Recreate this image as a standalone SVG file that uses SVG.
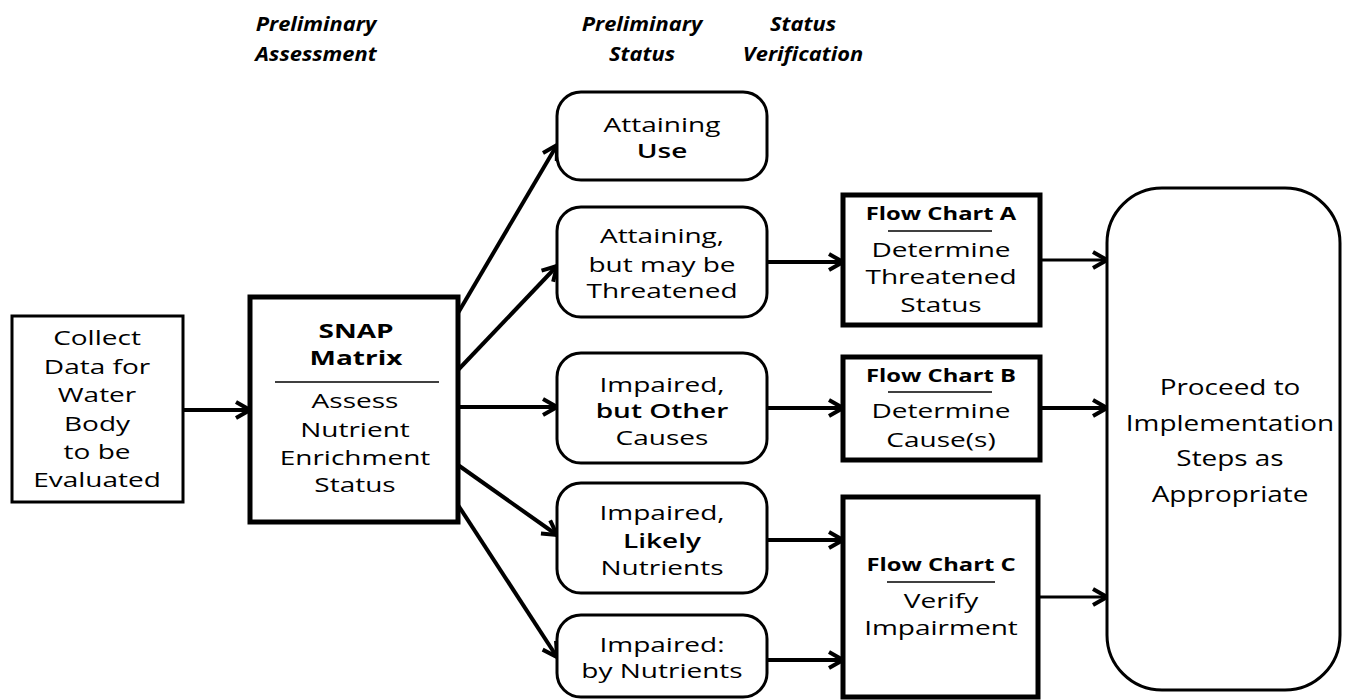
<svg xmlns="http://www.w3.org/2000/svg" width="1345" height="700" viewBox="0 0 1345 700">
<style>
.t{font-family:"Open Sans","DejaVu Sans",sans-serif;font-size:20px;fill:#000;text-anchor:middle}
.b{font-weight:700}
.sb{font-weight:600}
.h{font-family:"Open Sans","DejaVu Sans",sans-serif;font-size:19px;font-weight:700;font-style:italic;fill:#000;text-anchor:middle}
.fc{font-size:17px;font-weight:700}
.pr{font-size:21px}
.box{fill:#fff;stroke:#000;stroke-width:3}
.thick{fill:#fff;stroke:#000;stroke-width:5}
.div{stroke:#000;stroke-width:1.5}
.c{fill:none;stroke:#000;stroke-width:4;marker-end:url(#ah)}
.c2{fill:none;stroke:#000;stroke-width:3;marker-end:url(#ah)}
</style>
<defs>
<marker id="ah" markerUnits="userSpaceOnUse" viewBox="0 0 18 20" refX="16" refY="10" markerWidth="18" markerHeight="20" orient="auto">
<path d="M2,2 L16,10 L2,18" fill="none" stroke="#000" stroke-width="4" stroke-linejoin="miter"/>
</marker>
</defs>
<rect width="1345" height="700" fill="#fff"/>

<g id="headers">
<text class="h" transform="translate(316 0) scale(1.15 1)"><tspan x="0" y="31">Preliminary</tspan><tspan x="0" y="61">Assessment</tspan></text>
<text class="h" transform="translate(642 0) scale(1.15 1)"><tspan x="0" y="31">Preliminary</tspan><tspan x="0" y="61">Status</tspan></text>
<text class="h" transform="translate(803 0) scale(1.15 1)"><tspan x="0" y="31">Status</tspan><tspan x="0" y="61">Verification</tspan></text>
</g>

<g id="connectors">
<path class="c" d="M183,410 L250,410"/>
<path class="c" d="M458,313 L557,145"/>
<path class="c" d="M458,370 L557,266"/>
<path class="c" d="M458,407 L557,407"/>
<path class="c" d="M458,465 L557,535"/>
<path class="c" d="M458,505 L557,657"/>
<path class="c" d="M767,262 L843,262"/>
<path class="c" d="M767,408 L843,408"/>
<path class="c" d="M767,540 L843,540"/>
<path class="c" d="M767,660 L843,660"/>
<path class="c2" d="M1040,260 L1107,260"/>
<path class="c" d="M1040,408 L1107,408"/>
<path class="c2" d="M1040,597 L1107,597"/>
</g>

<g id="collect">
<rect class="box" x="12" y="316" width="171" height="186"/>
<text class="t" transform="translate(97 0) scale(1.4 1)"><tspan x="0" y="345">Collect</tspan><tspan x="0" y="374">Data for</tspan><tspan x="0" y="402">Water</tspan><tspan x="0" y="431">Body</tspan><tspan x="0" y="459">to be</tspan><tspan x="0" y="487">Evaluated</tspan></text>
</g>

<g id="snap">
<rect class="thick" x="250" y="297" width="208" height="225"/>
<text class="t b" transform="translate(356 0) scale(1.4 1)"><tspan x="0" y="338">SNAP</tspan><tspan x="0" y="365">Matrix</tspan></text>
<line class="div" x1="275" y1="382" x2="439" y2="382"/>
<text class="t" transform="translate(355 0) scale(1.4 1)"><tspan x="0" y="408">Assess</tspan><tspan x="0" y="437">Nutrient</tspan><tspan x="0" y="465">Enrichment</tspan><tspan x="0" y="492">Status</tspan></text>
</g>

<g id="attaining-use">
<rect class="box" x="557" y="92" width="210" height="88" rx="24"/>
<text class="t" transform="translate(662 0) scale(1.4 1)"><tspan x="0" y="132">Attaining</tspan><tspan x="0" y="158" class="sb">Use</tspan></text>
</g>

<g id="attaining-threatened">
<rect class="box" x="557" y="207" width="210" height="110" rx="24"/>
<text class="t" transform="translate(662 0) scale(1.4 1)"><tspan x="0" y="243">Attaining,</tspan><tspan x="0" y="272">but may be</tspan><tspan x="0" y="298">Threatened</tspan></text>
</g>

<g id="impaired-other">
<rect class="box" x="557" y="353" width="210" height="110" rx="24"/>
<text class="t" transform="translate(662 0) scale(1.4 1)"><tspan x="0" y="392">Impaired,</tspan><tspan x="0" y="418" class="sb">but Other</tspan><tspan x="0" y="445">Causes</tspan></text>
</g>

<g id="impaired-likely">
<rect class="box" x="557" y="483" width="210" height="110" rx="24"/>
<text class="t" transform="translate(662 0) scale(1.4 1)"><tspan x="0" y="520">Impaired,</tspan><tspan x="0" y="548" class="sb">Likely</tspan><tspan x="0" y="575">Nutrients</tspan></text>
</g>

<g id="impaired-nutrients">
<rect class="box" x="557" y="615" width="210" height="82" rx="24"/>
<text class="t" transform="translate(662 0) scale(1.4 1)"><tspan x="0" y="652">Impaired:</tspan><tspan x="0" y="678">by Nutrients</tspan></text>
</g>

<g id="flow-chart-a">
<rect class="thick" x="843" y="195" width="197" height="130"/>
<text class="t fc" transform="translate(941 0) scale(1.4 1)"><tspan x="0" y="220">Flow Chart A</tspan></text>
<line class="div" x1="888" y1="231" x2="992" y2="231"/>
<text class="t" transform="translate(941 0) scale(1.4 1)"><tspan x="0" y="257">Determine</tspan><tspan x="0" y="284">Threatened</tspan><tspan x="0" y="312">Status</tspan></text>
</g>

<g id="flow-chart-b">
<rect class="thick" x="843" y="357" width="197" height="103"/>
<text class="t fc" transform="translate(941 0) scale(1.4 1)"><tspan x="0" y="382">Flow Chart B</tspan></text>
<line class="div" x1="888" y1="392" x2="992" y2="392"/>
<text class="t" transform="translate(941 0) scale(1.4 1)"><tspan x="0" y="418">Determine</tspan><tspan x="0" y="447">Cause(s)</tspan></text>
</g>

<g id="flow-chart-c">
<rect class="thick" x="843" y="497" width="195" height="200"/>
<text class="t fc" transform="translate(941 0) scale(1.4 1)"><tspan x="0" y="571">Flow Chart C</tspan></text>
<line class="div" x1="887" y1="582" x2="995" y2="582"/>
<text class="t" transform="translate(941 0) scale(1.4 1)"><tspan x="0" y="608">Verify</tspan><tspan x="0" y="635">Impairment</tspan></text>
</g>

<g id="proceed">
<rect class="box" x="1107" y="188" width="233" height="502" rx="55"/>
<text class="t pr" transform="translate(1230 0) scale(1.33 1)"><tspan x="0" y="395">Proceed to</tspan><tspan x="0" y="431">Implementation</tspan><tspan x="0" y="466">Steps as</tspan><tspan x="0" y="502">Appropriate</tspan></text>
</g>
</svg>
